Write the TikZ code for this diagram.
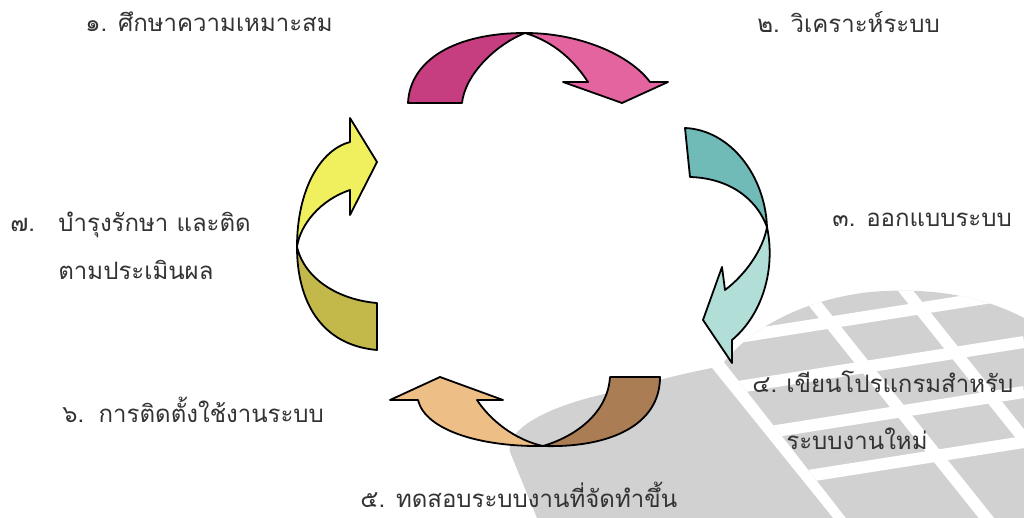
\documentclass[tikz,border=0pt]{standalone}
\usepackage{fontspec}
\newfontfamily\thaifont[Script=Thai]{Loma}
\usetikzlibrary{positioning}
\definecolor{magdark}{RGB}{198,62,128}
\definecolor{maglight}{RGB}{228,100,160}
\definecolor{tealdark}{RGB}{112,186,184}
\definecolor{teallight}{RGB}{178,222,216}
\definecolor{browndark}{RGB}{170,125,85}
\definecolor{brownlight}{RGB}{238,190,135}
\definecolor{yellowlight}{RGB}{240,240,95}
\definecolor{olivedark}{RGB}{195,185,75}
\tikzset{
	ribbon/.style={draw=black, line width=0.9pt, line join=round}
}
\tikzset{
	steplabel/.style={font=\thaifont\fontsize{12}{24}\selectfont, text=black!80,
		inner sep=0pt, anchor=west, align=left}
}
\tikzset{
	wmark/.style={fill=black!18}
}

\begin{document}
\begin{tikzpicture}[x=0.5pt, y=-0.5pt]
      \useasboundingbox (0,0) rectangle (1024,518);

      % watermark in the lower right corner
      \fill[wmark] (537,518) -- (510,452) .. controls (505,430) and (545,408) .. (600,395)
        .. controls (650,382) and (690,372) .. (712,368) -- (833,518) -- cycle;
      \begin{scope}
        \clip (724,362) .. controls (750,330) and (800,300) .. (870,292)
          .. controls (940,286) and (990,300) .. (1024,318) -- (1024,518) -- (846,518) -- cycle;
        \fill[wmark] (700,280) rectangle (1024,518);
        \foreach \y in {340,390,440,490}
          \draw[white, line width=6pt] (700,\y+3) -- (1024,\y-48);
        \draw[white, line width=6pt] (780,260) -- (992,525);
        \draw[white, line width=6pt] (873,250) -- (1085,515);
      \end{scope}

      % top arrow
      \filldraw[ribbon, fill=magdark] (408,103) .. controls (410,60) and (455,33) .. (525,33)
        .. controls (495,45) and (465,75) .. (462,103) -- cycle;
      \filldraw[ribbon, fill=maglight] (525,33) .. controls (580,33) and (630,55) .. (650,82)
        -- (668,82) -- (622,103) -- (563,82) -- (588,82)
        .. controls (575,62) and (555,42) .. (525,33) -- cycle;

      % right arrow
      \filldraw[ribbon, fill=tealdark] (685,128) .. controls (730,130) and (765,175) .. (767,227)
        .. controls (755,195) and (725,178) .. (690,177) -- cycle;
      \filldraw[ribbon, fill=teallight] (767,227) .. controls (776,270) and (762,315) .. (732,340)
        -- (732,363) -- (703,320) -- (722,267) -- (725,290)
        .. controls (745,275) and (763,250) .. (767,227) -- cycle;

      % bottom arrow
      \filldraw[ribbon, fill=browndark] (660,377) .. controls (660,425) and (610,448) .. (543,446)
        .. controls (580,435) and (608,410) .. (610,377) -- cycle;
      \filldraw[ribbon, fill=brownlight] (543,446) .. controls (480,447) and (425,430) .. (418,400)
        -- (390,400) -- (440,377) -- (503,400) -- (477,400)
        .. controls (490,420) and (515,440) .. (543,446) -- cycle;

      % left arrow
      \filldraw[ribbon, fill=olivedark] (377,350) .. controls (320,345) and (297,300) .. (297,247)
        .. controls (305,280) and (340,300) .. (377,303) -- cycle;
      \filldraw[ribbon, fill=yellowlight] (297,247) .. controls (297,190) and (320,150) .. (350,142)
        -- (350,118) -- (377,162) -- (350,215) -- (350,190)
        .. controls (320,200) and (300,225) .. (297,247) -- cycle;

      \node[steplabel] (s1) at (85,22) {๑. ศึกษาความเหมาะสม};
      \node[steplabel] (s2) at (757,22) {๒. วิเคราะห์ระบบ};
      \node[steplabel] (s3) at (832,220) {๓. ออกแบบระบบ};
      \node[steplabel] (s4) at (752,410) {\makebox[17pt][l]{๔.}เขียนโปรแกรมสำหรับ\\[4.5pt]
        \hspace*{17pt}ระบบงานใหม่};
      \node[steplabel] (s5) at (360,495) {๕. ทดสอบระบบงานที่จัดทำขึ้น};
      \node[steplabel] (s6) at (62,410) {๖.\hspace{0.6em}การติดตั้งใช้งานระบบ};
      \node[steplabel] (s7) at (10,246) {\makebox[24pt][l]{๗.}บำรุงรักษา และติด\\
        \hspace*{24pt}ตามประเมินผล};
\end{tikzpicture}
\end{document}
